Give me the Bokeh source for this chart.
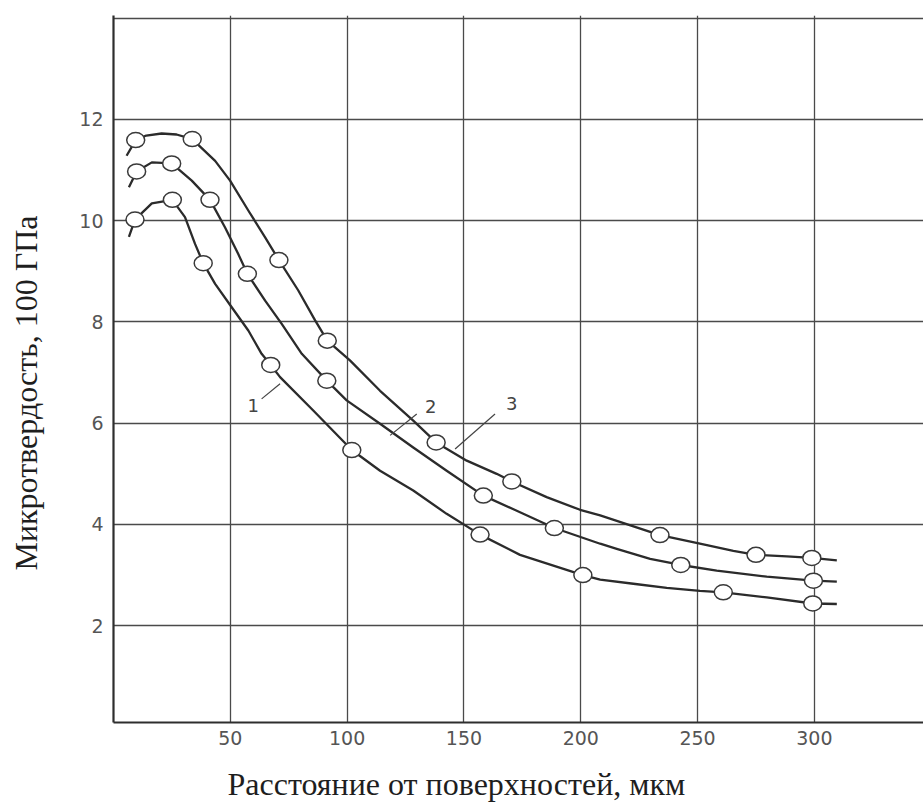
from bokeh.plotting import figure
from bokeh.models import Range1d, FixedTicker, Title
from bokeh.core.properties import value
from bokeh.embed import file_html
from bokeh.resources import INLINE

# ---- data ----
x_ticks = [50, 100, 150, 200, 250, 300]
y_ticks = [2, 4, 6, 8, 10, 12]

# curve 3 (top)
c3_x = [5.6, 9.5, 14, 20.6, 27, 33.7, 43.5, 49.9, 57.7, 64.9, 70.8, 79.1, 86.3, 91.5, 101.2, 114.1, 128.3, 138.1,
        151.2, 164, 170.5, 185.4, 199.7, 208.3, 233.9, 251, 265.3, 275, 288.2, 298.9, 309.6]
c3_y = [11.28, 11.59, 11.68, 11.72, 11.70, 11.61, 11.18, 10.79, 10.2, 9.67, 9.22, 8.62, 8.03, 7.63, 7.24, 6.64, 6.05, 5.62,
        5.26, 5.0, 4.85, 4.54, 4.29, 4.18, 3.79, 3.62, 3.48, 3.40, 3.37, 3.34, 3.29]
m3_x = [9.5, 33.7, 70.8, 91.5, 138.1, 170.5, 233.9, 275, 298.9]
m3_y = [11.59, 11.61, 9.22, 7.63, 5.62, 4.85, 3.79, 3.40, 3.34]

# curve 2 (middle)
c2_x = [6.6, 9.9, 16.4, 24.9, 33.5, 41.3, 47.7, 53.4, 57.3, 64.9, 72, 80.6, 91.3, 99.8, 114.1, 128.3, 142.6, 158.3,
        172.6, 188.7, 208.3, 215.4, 229.7, 242.8, 258.2, 279.6, 299.6, 309.6]
c2_y = [10.66, 10.97, 11.15, 11.13, 10.79, 10.41, 9.87, 9.34, 8.95, 8.42, 7.96, 7.37, 6.84, 6.45, 5.99, 5.52, 5.06, 4.57,
        4.27, 3.93, 3.62, 3.52, 3.32, 3.20, 3.09, 2.97, 2.89, 2.87]
m2_x = [9.9, 24.9, 41.3, 57.3, 91.3, 158.3, 188.7, 242.8, 299.6]
m2_y = [10.97, 11.13, 10.41, 8.95, 6.84, 4.57, 3.93, 3.20, 2.89]

# curve 1 (bottom)
c1_x = [6.6, 9.2, 16.4, 25.2, 30.6, 34.9, 38.4, 43.5, 50.6, 57.7, 63.4, 67.3, 71.3, 85.5, 102, 114.1, 128.3, 142.6,
        156.9, 174, 200.9, 208.3, 222.5, 236.8, 251, 261, 279.6, 299.3, 309.6]
c1_y = [9.68, 10.02, 10.34, 10.41, 10.07, 9.54, 9.16, 8.75, 8.29, 7.83, 7.37, 7.15, 6.91, 6.25, 5.47, 5.06, 4.67, 4.21,
        3.80, 3.40, 3.0, 2.91, 2.83, 2.75, 2.69, 2.66, 2.56, 2.44, 2.43]
m1_x = [9.2, 25.2, 38.4, 67.3, 102, 156.9, 200.9, 261, 299.3]
m1_y = [10.02, 10.41, 9.16, 7.15, 5.47, 3.80, 3.0, 2.66, 2.44]

curve_names = ["1", "2", "3"]
name_x = [59.8, 135.8, 170.5]
name_y = [6.35, 6.33, 6.38]
lead_x0 = [63.4, 118.4, 146.2]
lead_y0 = [6.48, 5.76, 5.49]
lead_x1 = [71.3, 129.8, 163.3]
lead_y1 = [6.78, 6.18, 6.18]

x_title = "Расстояние от поверхностей, мкм"
y_title = "Микротвердость, 100 ГПа"

# ---- figure ----
p = figure(width=923, height=805, output_backend="svg", toolbar_location=None,
           x_range=Range1d(0, 346.7), y_range=Range1d(0.09, 14.05),
           min_border_left=113, min_border_right=0, min_border_top=15, min_border_bottom=83)
p.outline_line_color = None
p.background_fill_color = "white"
p.border_fill_color = "white"

grid_col = "#4a4a4a"
p.xgrid.ticker = FixedTicker(ticks=[50, 100, 150, 200, 250, 300, 350])
p.ygrid.ticker = FixedTicker(ticks=[2, 4, 6, 8, 10, 12, 14])
for g in (p.xgrid, p.ygrid):
    g.grid_line_color = grid_col
    g.grid_line_width = 1.3
    g.grid_line_alpha = 1.0

p.xaxis.ticker = FixedTicker(ticks=x_ticks)
p.yaxis.ticker = FixedTicker(ticks=y_ticks)
for ax in (p.xaxis, p.yaxis):
    ax.axis_line_color = "#2e2e2e"
    ax.axis_line_width = 2.2
    ax.major_tick_out = 0
    ax.major_tick_in = 0
    ax.minor_tick_out = 0
    ax.minor_tick_in = 0
    ax.major_label_text_font = "DejaVu Sans"
    ax.major_label_text_font_size = "19px"
    ax.major_label_text_color = "#555555"
p.xaxis.major_label_standoff = 8
p.yaxis.major_label_standoff = 10
# invisible spacer labels to place the titles
p.yaxis.axis_label = "\u00a0"
p.yaxis.axis_label_text_font_size = "18px"
p.yaxis.axis_label_standoff = 7
p.xaxis.axis_label = "\u00a0"
p.xaxis.axis_label_text_font_size = "8px"
p.xaxis.axis_label_standoff = 2

line_col = "#2b2b2b"
for cx, cy, mx, my in ((c1_x, c1_y, m1_x, m1_y), (c2_x, c2_y, m2_x, m2_y), (c3_x, c3_y, m3_x, m3_y)):
    p.line(cx, cy, line_width=2.3, line_color=line_col, line_join="round")
    p.ellipse(mx, my, width=18, height=15, width_units="screen", height_units="screen",
              fill_color="white", line_color="#3a3a3a", line_width=1.5)

p.segment(x0=lead_x0, y0=lead_y0, x1=lead_x1, y1=lead_y1, line_color="#444444", line_width=1.2)
p.text(x=name_x, y=name_y, text=curve_names, text_font=value("DejaVu Sans"), text_font_size="18px",
       text_color="#444444", text_align="center", text_baseline="middle")

p.add_layout(Title(text=x_title, align="left", offset=114, standoff=4,
                   text_font="Liberation Serif", text_font_size="32px", text_font_style="normal",
                   text_color="#1e1e1e"), "below")
p.add_layout(Title(text=y_title, align="left", offset=152, standoff=6,
                   text_font="Liberation Serif", text_font_size="32px", text_font_style="normal",
                   text_color="#1e1e1e"), "left")

open("out.html", "w").write(file_html(p, INLINE))
